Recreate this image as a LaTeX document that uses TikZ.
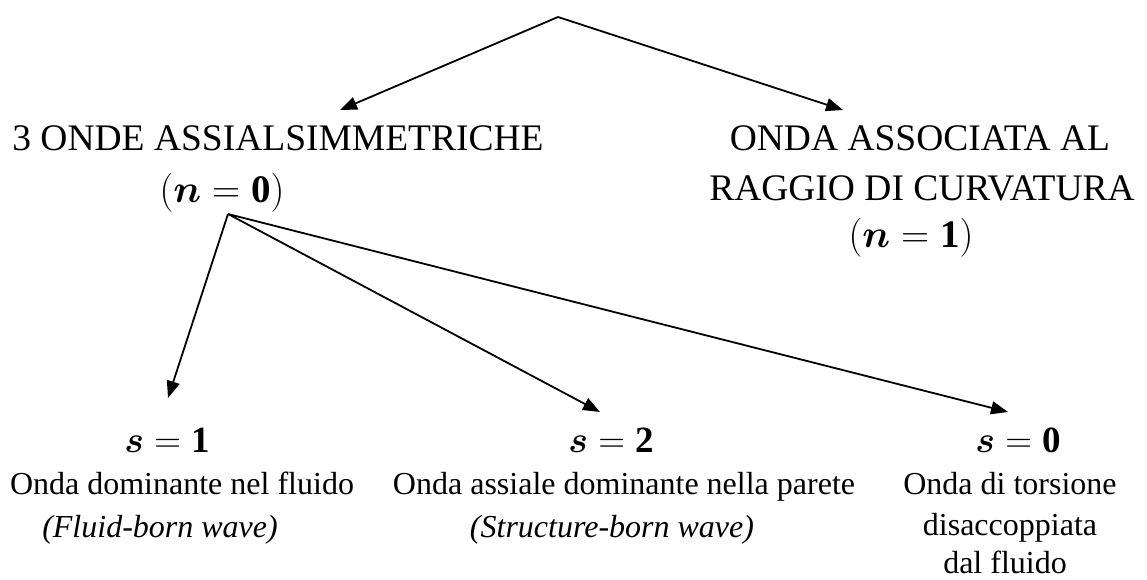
\RequirePackage{fix-cm}
\documentclass[tikz,border=0pt]{standalone}
\usepackage{amsmath,bm}
\usepackage{fontspec}
\setmainfont{Liberation Serif}
\usetikzlibrary{arrows.meta}
\tikzset{
  big/.style={inner sep=0pt, anchor=base, font=\fontsize{37.5}{50}\selectfont},
  bmath/.style={inner sep=0pt, anchor=base, font=\fontsize{39}{50}\selectfont},
  small/.style={inner sep=0pt, anchor=base, font=\fontsize{32}{42}\selectfont},
  smallit/.style={small, font=\fontsize{32}{42}\selectfont\itshape},
  smath/.style={inner sep=0pt, anchor=base, font=\fontsize{37}{42}\selectfont},
  arr/.style={line width=1.8pt, -{Triangle[length=17pt,width=13pt]}},
}
\begin{document}
\begin{tikzpicture}[x=1pt,y=-1pt]
\useasboundingbox (0,0) rectangle (1147,579);
% top level
\coordinate (apex) at (558,17);
\coordinate (tl) at (340,110);
\coordinate (tr) at (843,110);
\node[big] (L1) at (278,150) {3 ONDE ASSIALSIMMETRICHE};
\node[bmath] (L2) at (222,202) {$(\bm{n}=\mathbf{0})$};
\node[big] (R1) at (920,150) {ONDA ASSOCIATA AL};
\node[big] (R2) at (922,200) {RAGGIO DI CURVATURA};
\node[bmath] (R3) at (911,247) {$(\bm{n}=\mathbf{1})$};
\draw[arr] (apex) -- (tl);
\draw[arr] (apex) -- (tr);
% second level
\coordinate (orig) at (228,214);
\coordinate (t1) at (168,398);
\coordinate (t2) at (600,412);
\coordinate (t0) at (1008,412);
\draw[arr] (orig) -- (t1);
\draw[arr] (orig) -- (t2);
\draw[arr] (orig) -- (t0);
% leaves
\node[smath] (s1) at (167,452) {$\bm{s}=\mathbf{1}$};
\node[small] (o1) at (182,494) {Onda dominante nel fluido};
\node[smallit] (f1) at (160,537) {(Fluid-born wave)};
\node[smath] (s2) at (611,452) {$\bm{s}=\mathbf{2}$};
\node[small] (o2) at (624,494) {Onda assiale dominante nella parete};
\node[smallit] (f2) at (612,537) {(Structure-born wave)};
\node[smath] (s0) at (1018,452) {$\bm{s}=\mathbf{0}$};
\node[small] (o3) at (1010,494) {Onda di torsione};
\node[small] (d3) at (1010,535) {disaccoppiata};
\node[small] (d4) at (1005,573) {dal fluido};
\end{tikzpicture}
\end{document}
